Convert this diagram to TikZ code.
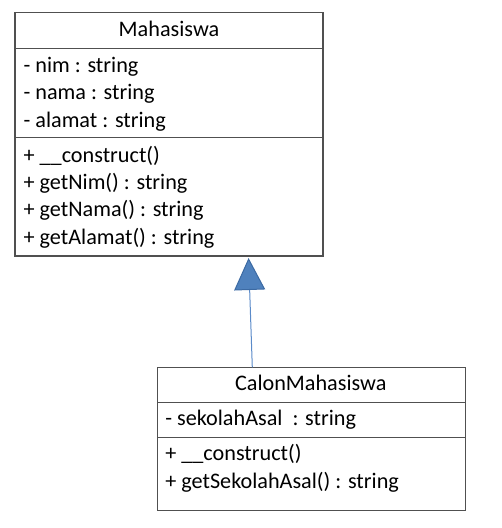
\documentclass[tikz,border=0pt]{standalone}
\usepackage{fontspec}
\setmainfont{Carlito}
\usetikzlibrary{arrows.meta}
\definecolor{boxline}{HTML}{505050}
\definecolor{triFill}{HTML}{4F81BD}
\definecolor{triLine}{HTML}{3C6AA3}
\definecolor{inhLine}{HTML}{5B8BC9}

\begin{document}
\begin{tikzpicture}[x=1pt, y=-1pt, semithick,
		compartment/.style={draw=boxline, line width=1.1pt, rectangle, inner sep=0pt, outer sep=0pt, minimum width=308pt, anchor=north west},
		member/.style={anchor=base west, inner sep=0pt, font=\fontsize{22.2}{26}\selectfont},
		classname/.style={anchor=base, inner sep=0pt, font=\fontsize{22.2}{26}\selectfont},
		inherit/.style={draw=inhLine, line width=1pt, shorten >=2pt, -{Triangle[length=32pt, width=31pt, fill=triFill, color=triLine, line width=1pt]}}]
		\useasboundingbox (0, 0) rectangle (502, 528);
		\node[compartment, minimum height=35.6pt] (mhsTitle) at (15, 12.7) {};
		\node[compartment, minimum height=89.4pt] (mhsAttrs) at (15, 48.3) {};
		\node[compartment, minimum height=118.3pt] (mhsMethods) at (15, 137.7) {};
		\node[classname] (mhsName) at (169, 36.7) {Mahasiswa};
		\node[member] (mhsNim) at (23.3, 72.3) {- nim : string};
		\node[member] (mhsNama) at (23.3, 99.8) {- nama : string};
		\node[member] (mhsAlamat) at (23.3, 127.3) {- alamat : string};
		\node[member] (mhsConstruct) at (23.3, 162) {+ \_\_construct()};
		\node[member] (mhsGetNim) at (23.3, 189.5) {+ getNim() : string};
		\node[member] (mhsGetNama) at (23.3, 216.9) {+ getNama() : string};
		\node[member] (mhsGetAlamat) at (23.3, 244.3) {+ getAlamat() : string};
		
		\node[compartment, minimum height=35.4pt] (calonTitle) at (157.3, 367.3) {};
		\node[compartment, minimum height=34.6pt] (calonAttrs) at (157.3, 402.7) {};
		\node[compartment, minimum height=73.4pt] (calonMethods) at (157.3, 437.3) {};
		\node[classname] (calonName) at (310.8, 390.5) {CalonMahasiswa};
		\node[member] (calonSekolah) at (165, 425.3) {- sekolahAsal\ \ : string};
		\node[member] (calonConstruct) at (165, 460.3) {+ \_\_construct()};
		\node[member] (calonGetSekolah) at (165, 488.3) {+ getSekolahAsal() : string};
		
		\draw[inherit] ([xshift=-59pt]calonTitle.north) -- ([xshift=79.5pt]mhsMethods.south);
	\end{tikzpicture}
\end{document}
